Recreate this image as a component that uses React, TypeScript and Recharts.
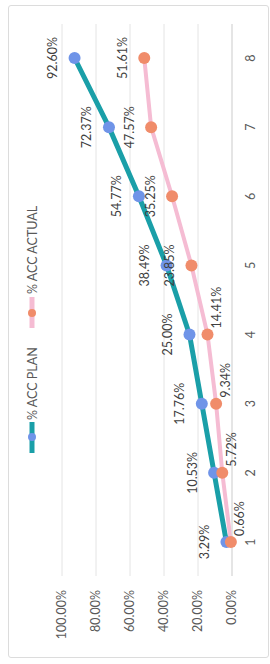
import { LineChart, Line, XAxis, YAxis, CartesianGrid, LabelList } from 'recharts';

const periods = ['1', '2', '3', '4', '5', '6', '7', '8'];
const accPlan = [3.29, 10.53, 17.76, 25.0, 38.49, 54.77, 72.37, 92.6];
const accActual = [0.66, 5.72, 9.34, 14.41, 23.85, 35.25, 47.57, 51.61];
const valueTicks = [0, 20, 40, 60, 80, 100];

const data = periods.map((p, i) => ({
  period: p,
  plan: accPlan[i],
  actual: accActual[i],
}));

const FONT = 'Lato, "Open Sans", sans-serif';
const FS = 12.5;
const pct = (v: number) => `${v.toFixed(2)}%`;

const PlanLabel = (props: any) => {
  const { x, y, value } = props;
  return (
    <text
      x={x}
      y={y - 22}
      textAnchor="middle"
      dominantBaseline="central"
      fontSize={FS}
      fontFamily={FONT}
      fill="#404040"
    >
      {pct(value)}
    </text>
  );
};

const ActualLabel = (props: any) => {
  const { x, y, value, index } = props;
  const right = index < 4;
  return (
    <text
      x={right ? x + 6 : x}
      y={right ? y + 9 : y - 22}
      textAnchor={right ? 'start' : 'middle'}
      dominantBaseline="central"
      fontSize={FS}
      fontFamily={FONT}
      fill="#404040"
    >
      {pct(value)}
    </text>
  );
};

function ChartLegend() {
  return (
    <svg
      width={664}
      height={60}
      style={{ position: 'absolute', left: 0, top: 0, pointerEvents: 'none' }}
    >
      <line x1={211} x2={242} y1={32} y2={32} stroke="#1a9fa8" strokeWidth={5} />
      <circle cx={227} cy={32} r={4} fill="#6f94e8" />
      <text x={244} y={32} dominantBaseline="central" fontSize={FS} fontFamily={FONT} fill="#595959">
        % ACC PLAN
      </text>
      <line x1={336} x2={367} y1={32} y2={32} stroke="#f5bcd3" strokeWidth={5} />
      <circle cx={351} cy={32} r={4} fill="#f08c6a" />
      <text x={370} y={32} dominantBaseline="central" fontSize={FS} fontFamily={FONT} fill="#595959">
        % ACC ACTUAL
      </text>
    </svg>
  );
}

export default function App() {
  return (
    <div
      style={{
        position: 'absolute',
        left: 0,
        top: 0,
        width: 270,
        height: 664,
        overflow: 'hidden',
        background: '#fff',
      }}
    >
      <div
        style={{
          position: 'absolute',
          left: 8,
          top: 5,
          width: 259,
          height: 651,
          border: '1px solid #dcdcdc',
          borderRadius: 3,
        }}
      />
      <div
        style={{
          position: 'absolute',
          left: 0,
          top: 0,
          width: 664,
          height: 270,
          transformOrigin: '0 0',
          transform: 'translateY(664px) rotate(-90deg)',
        }}
      >
        <LineChart
          width={664}
          height={270}
          data={data}
          margin={{ top: 62, right: 24, bottom: 0, left: 0 }}
        >
          <CartesianGrid vertical={false} stroke="#e4e4e4" />
          <XAxis
            dataKey="period"
            height={38}
            padding={{ left: 34, right: 34 }}
            tickLine={false}
            axisLine={{ stroke: '#d9d9d9' }}
            tickMargin={8}
            tick={{ fontSize: FS, fontFamily: FONT, fill: '#595959' }}
          />
          <YAxis
            width={88}
            domain={[0, 100]}
            ticks={valueTicks}
            tickFormatter={pct}
            tickLine={false}
            axisLine={false}
            tickMargin={8}
            tick={{ fontSize: FS, fontFamily: FONT, fill: '#595959' }}
          />
          <Line
            dataKey="plan"
            stroke="#1a9fa8"
            strokeWidth={5}
            dot={{ r: 6, fill: '#6f94e8', stroke: 'none' }}
            isAnimationActive={false}
          >
            <LabelList dataKey="plan" content={PlanLabel} />
          </Line>
          <Line
            dataKey="actual"
            stroke="#f5bcd3"
            strokeWidth={4}
            dot={{ r: 6, fill: '#f08c6a', stroke: 'none' }}
            isAnimationActive={false}
          >
            <LabelList dataKey="actual" content={ActualLabel} />
          </Line>
        </LineChart>
        <ChartLegend />
      </div>
    </div>
  );
}
